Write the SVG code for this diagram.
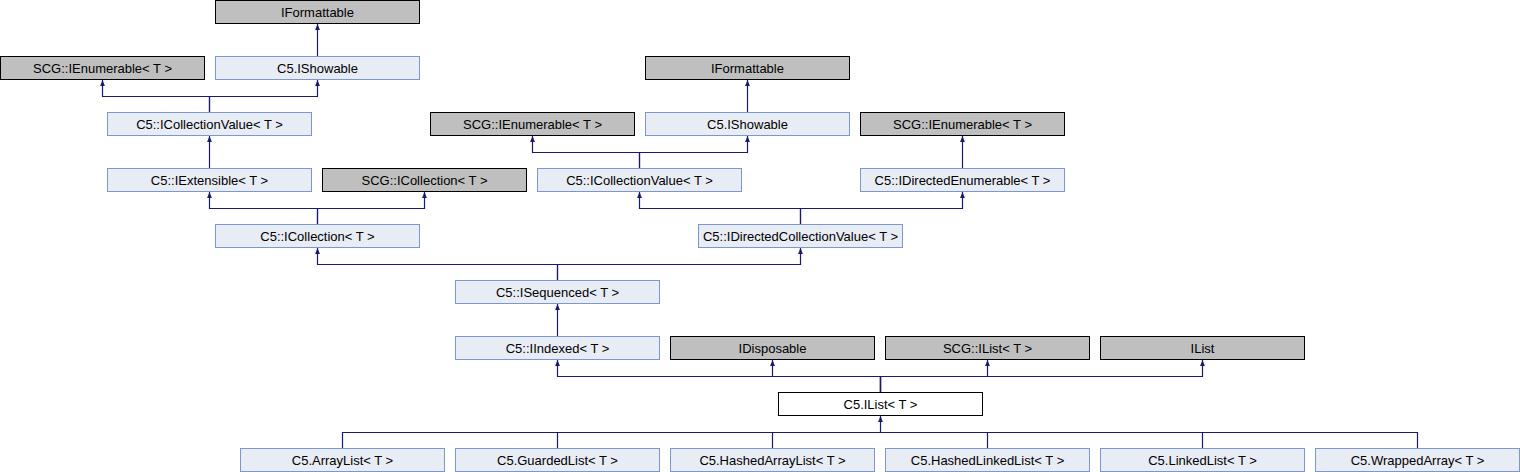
<svg xmlns="http://www.w3.org/2000/svg" width="1520" height="472" viewBox="0 0 1520 472">
<style>
rect{stroke-width:1}
.doc{fill:#E8ECF5;stroke:#7B97CD}
.ext{fill:#BFBFBF;stroke:#000}
.cur{fill:#FFFFFF;stroke:#000}
text{font-family:"Liberation Sans",Arial,sans-serif;font-size:13px;text-anchor:middle;fill:#000}
.e{fill:none;stroke:#191970;stroke-width:1.2}
.a{marker-end:url(#ah)}
</style>
<defs>
<marker id="ah" markerUnits="userSpaceOnUse" viewBox="0 0 10 10" refX="10" refY="5" markerWidth="6" markerHeight="6" orient="auto">
<path d="M0,1 L10,5 L0,9 z" fill="#191970"/>
</marker>
</defs>
<rect width="1520" height="472" fill="#fff"/>
<g id="connectors">
<path class="e a" d="M317.5,56.5 V24"/>
<path class="e a" d="M209.5,112.5 V96.5 H102.5 V80"/>
<path class="e a" d="M209.5,112.5 V96.5 H317.5 V80"/>
<path class="e a" d="M209.5,168.5 V136"/>
<path class="e a" d="M317.5,224.5 V208.5 H209.5 V192"/>
<path class="e a" d="M317.5,224.5 V208.5 H424.5 V192"/>
<path class="e a" d="M557.5,280.5 V264.5 H317.5 V248"/>
<path class="e a" d="M557.5,280.5 V264.5 H800.5 V248"/>
<path class="e a" d="M557.5,336.5 V304"/>
<path class="e a" d="M747.5,112.5 V80"/>
<path class="e a" d="M639.5,168.5 V152.5 H532.5 V136"/>
<path class="e a" d="M639.5,168.5 V152.5 H747.5 V136"/>
<path class="e a" d="M962.5,168.5 V136"/>
<path class="e a" d="M800.5,224.5 V208.5 H639.5 V192"/>
<path class="e a" d="M800.5,224.5 V208.5 H962.5 V192"/>
<path class="e a" d="M880.5,392.5 V376.5 H557.5 V360"/>
<path class="e a" d="M880.5,392.5 V376.5 H772.5 V360"/>
<path class="e a" d="M880.5,392.5 V376.5 H987.5 V360"/>
<path class="e a" d="M880.5,392.5 V376.5 H1202.5 V360"/>
<path class="e" d="M342.5,448.5 V432.5 H1417.5 V448.5"/>
<path class="e" d="M557.5,448.5 V432.5 M772.5,448.5 V432.5 M987.5,448.5 V432.5 M1202.5,448.5 V432.5"/>
<path class="e a" d="M880.5,432.5 V416"/>
</g>
<g id="IFormattable_a"><rect class="ext" x="215.5" y="0.5" width="204" height="23"/><text x="317.5" y="17">IFormattable</text></g>
<g id="SCG_IEnumerable_a"><rect class="ext" x="0.5" y="56.5" width="204" height="23"/><text x="102.5" y="73">SCG::IEnumerable&lt; T &gt;</text></g>
<g id="IShowable_a"><rect class="doc" x="215.5" y="56.5" width="204" height="23"/><text x="317.5" y="73">C5.IShowable</text></g>
<g id="IFormattable_b"><rect class="ext" x="645.5" y="56.5" width="204" height="23"/><text x="747.5" y="73">IFormattable</text></g>
<g id="ICollectionValue_a"><rect class="doc" x="107.5" y="112.5" width="204" height="23"/><text x="209.5" y="129">C5::ICollectionValue&lt; T &gt;</text></g>
<g id="SCG_IEnumerable_b"><rect class="ext" x="430.5" y="112.5" width="204" height="23"/><text x="532.5" y="129">SCG::IEnumerable&lt; T &gt;</text></g>
<g id="IShowable_b"><rect class="doc" x="645.5" y="112.5" width="204" height="23"/><text x="747.5" y="129">C5.IShowable</text></g>
<g id="SCG_IEnumerable_c"><rect class="ext" x="860.5" y="112.5" width="204" height="23"/><text x="962.5" y="129">SCG::IEnumerable&lt; T &gt;</text></g>
<g id="IExtensible"><rect class="doc" x="107.5" y="168.5" width="204" height="23"/><text x="209.5" y="185">C5::IExtensible&lt; T &gt;</text></g>
<g id="SCG_ICollection"><rect class="ext" x="322.5" y="168.5" width="204" height="23"/><text x="424.5" y="185">SCG::ICollection&lt; T &gt;</text></g>
<g id="ICollectionValue_b"><rect class="doc" x="537.5" y="168.5" width="204" height="23"/><text x="639.5" y="185">C5::ICollectionValue&lt; T &gt;</text></g>
<g id="IDirectedEnumerable"><rect class="doc" x="860.5" y="168.5" width="204" height="23"/><text x="962.5" y="185">C5::IDirectedEnumerable&lt; T &gt;</text></g>
<g id="ICollection"><rect class="doc" x="215.5" y="224.5" width="204" height="23"/><text x="317.5" y="241">C5::ICollection&lt; T &gt;</text></g>
<g id="IDirectedCollectionValue"><rect class="doc" x="698.5" y="224.5" width="204" height="23"/><text x="800.5" y="241">C5::IDirectedCollectionValue&lt; T &gt;</text></g>
<g id="ISequenced"><rect class="doc" x="455.5" y="280.5" width="204" height="23"/><text x="557.5" y="297">C5::ISequenced&lt; T &gt;</text></g>
<g id="IIndexed"><rect class="doc" x="455.5" y="336.5" width="204" height="23"/><text x="557.5" y="353">C5::IIndexed&lt; T &gt;</text></g>
<g id="IDisposable"><rect class="ext" x="670.5" y="336.5" width="204" height="23"/><text x="772.5" y="353">IDisposable</text></g>
<g id="SCG_IList"><rect class="ext" x="885.5" y="336.5" width="204" height="23"/><text x="987.5" y="353">SCG::IList&lt; T &gt;</text></g>
<g id="IList"><rect class="ext" x="1100.5" y="336.5" width="204" height="23"/><text x="1202.5" y="353">IList</text></g>
<g id="C5_IList"><rect class="cur" x="778.5" y="392.5" width="204" height="23"/><text x="880.5" y="409">C5.IList&lt; T &gt;</text></g>
<g id="ArrayList"><rect class="doc" x="240.5" y="448.5" width="204" height="23"/><text x="342.5" y="465">C5.ArrayList&lt; T &gt;</text></g>
<g id="GuardedList"><rect class="doc" x="455.5" y="448.5" width="204" height="23"/><text x="557.5" y="465">C5.GuardedList&lt; T &gt;</text></g>
<g id="HashedArrayList"><rect class="doc" x="670.5" y="448.5" width="204" height="23"/><text x="772.5" y="465">C5.HashedArrayList&lt; T &gt;</text></g>
<g id="HashedLinkedList"><rect class="doc" x="885.5" y="448.5" width="204" height="23"/><text x="987.5" y="465">C5.HashedLinkedList&lt; T &gt;</text></g>
<g id="LinkedList"><rect class="doc" x="1100.5" y="448.5" width="204" height="23"/><text x="1202.5" y="465">C5.LinkedList&lt; T &gt;</text></g>
<g id="WrappedArray"><rect class="doc" x="1315.5" y="448.5" width="204" height="23"/><text x="1417.5" y="465">C5.WrappedArray&lt; T &gt;</text></g>
</svg>
